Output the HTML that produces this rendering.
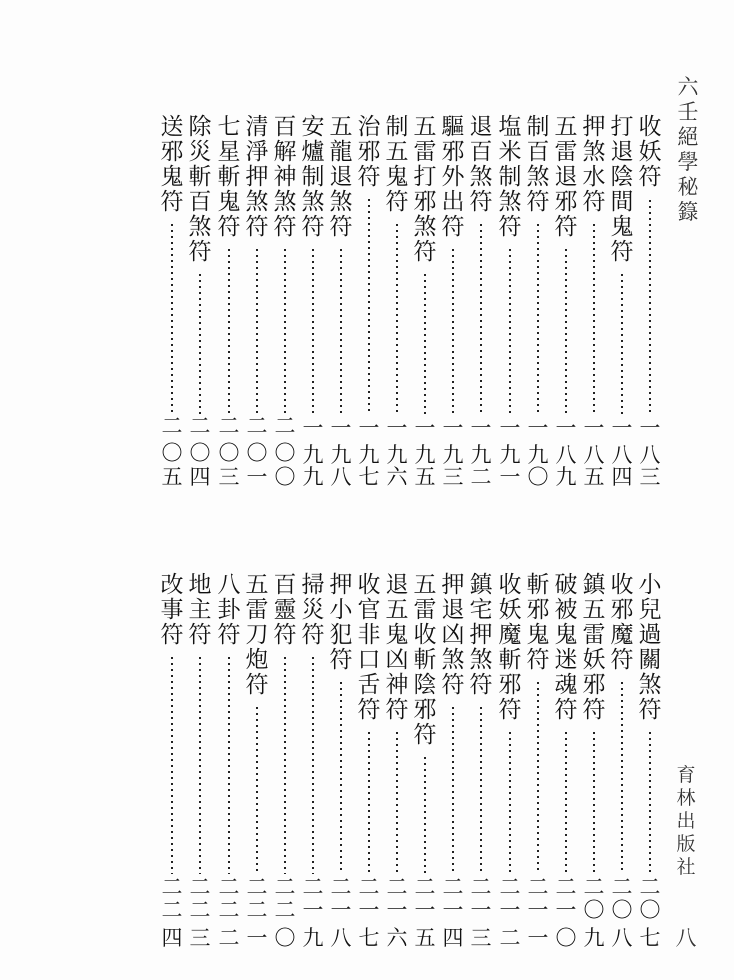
<!DOCTYPE html>
<html><head><meta charset="utf-8"><style>
body{margin:0;background:#fff;}
#p{position:relative;width:734px;height:980px;overflow:hidden;background:#fdfdfd;font-family:"Liberation Serif","Noto Serif CJK SC","Noto Sans CJK TC",serif;color:#111;}
.c{position:absolute;width:26px;text-align:center;font-size:23px;line-height:25px;}
.n{position:absolute;width:24px;text-align:center;font-size:21px;line-height:21px;}
.t{position:absolute;width:26px;text-align:center;font-size:21px;line-height:25px;color:#333;}
svg{position:absolute;left:0;top:0;}
</style></head><body><div id="p">
<svg width="734" height="980"><g stroke="#222" stroke-width="2" stroke-dasharray="2 4">
<line x1="650" y1="200" x2="650" y2="414"/><line x1="622" y1="274" x2="622" y2="414"/><line x1="594" y1="224" x2="594" y2="414"/><line x1="566" y1="249" x2="566" y2="414"/><line x1="538" y1="224" x2="538" y2="414"/><line x1="510" y1="249" x2="510" y2="414"/><line x1="481" y1="224" x2="481" y2="414"/><line x1="453" y1="249" x2="453" y2="414"/><line x1="425" y1="274" x2="425" y2="414"/><line x1="397" y1="224" x2="397" y2="414"/><line x1="369" y1="199" x2="369" y2="414"/><line x1="341" y1="249" x2="341" y2="414"/><line x1="313" y1="249" x2="313" y2="414"/><line x1="285" y1="249" x2="285" y2="414"/><line x1="257" y1="249" x2="257" y2="414"/><line x1="229" y1="249" x2="229" y2="414"/><line x1="200" y1="274" x2="200" y2="414"/><line x1="172" y1="224" x2="172" y2="414"/>
<line x1="650" y1="732" x2="650" y2="874"/><line x1="622" y1="682" x2="622" y2="874"/><line x1="594" y1="732" x2="594" y2="874"/><line x1="566" y1="732" x2="566" y2="874"/><line x1="538" y1="682" x2="538" y2="874"/><line x1="510" y1="732" x2="510" y2="874"/><line x1="481" y1="707" x2="481" y2="874"/><line x1="453" y1="707" x2="453" y2="874"/><line x1="425" y1="757" x2="425" y2="874"/><line x1="397" y1="732" x2="397" y2="874"/><line x1="369" y1="732" x2="369" y2="874"/><line x1="341" y1="682" x2="341" y2="874"/><line x1="313" y1="657" x2="313" y2="874"/><line x1="285" y1="657" x2="285" y2="874"/><line x1="257" y1="707" x2="257" y2="874"/><line x1="229" y1="657" x2="229" y2="874"/><line x1="200" y1="657" x2="200" y2="874"/><line x1="172" y1="657" x2="172" y2="874"/>
</g></svg>
<div class="t" style="left:675px;top:75px">六<br>壬<br>絕<br>學<br>秘<br>籙</div>
<div class="t" style="left:673px;top:764px;font-size:19px;line-height:23px">育<br>林<br>出<br>版<br>社</div>
<div class="t" style="left:673px;top:926px">八</div>

<div class="c" style="left:637px;top:114px">收<br>妖<br>符</div>
<div class="c" style="left:609px;top:114px">打<br>退<br>陰<br>間<br>鬼<br>符</div>
<div class="c" style="left:581px;top:114px">押<br>煞<br>水<br>符</div>
<div class="c" style="left:553px;top:114px">五<br>雷<br>退<br>邪<br>符</div>
<div class="c" style="left:525px;top:114px">制<br>百<br>煞<br>符</div>
<div class="c" style="left:497px;top:114px">塩<br>米<br>制<br>煞<br>符</div>
<div class="c" style="left:468px;top:114px">退<br>百<br>煞<br>符</div>
<div class="c" style="left:440px;top:114px">驅<br>邪<br>外<br>出<br>符</div>
<div class="c" style="left:412px;top:114px">五<br>雷<br>打<br>邪<br>煞<br>符</div>
<div class="c" style="left:384px;top:114px">制<br>五<br>鬼<br>符</div>
<div class="c" style="left:356px;top:114px">治<br>邪<br>符</div>
<div class="c" style="left:328px;top:114px">五<br>龍<br>退<br>煞<br>符</div>
<div class="c" style="left:300px;top:114px">安<br>爐<br>制<br>煞<br>符</div>
<div class="c" style="left:272px;top:114px">百<br>解<br>神<br>煞<br>符</div>
<div class="c" style="left:244px;top:114px">清<br>淨<br>押<br>煞<br>符</div>
<div class="c" style="left:216px;top:114px">七<br>星<br>斬<br>鬼<br>符</div>
<div class="c" style="left:187px;top:114px">除<br>災<br>斬<br>百<br>煞<br>符</div>
<div class="c" style="left:159px;top:114px">送<br>邪<br>鬼<br>符</div>

<div class="n" style="left:638px;top:418px">一</div><div class="n" style="left:638px;top:445px">八</div><div class="n" style="left:638px;top:467px">三</div>
<div class="n" style="left:610px;top:418px">一</div><div class="n" style="left:610px;top:445px">八</div><div class="n" style="left:610px;top:467px">四</div>
<div class="n" style="left:582px;top:418px">一</div><div class="n" style="left:582px;top:445px">八</div><div class="n" style="left:582px;top:467px">五</div>
<div class="n" style="left:554px;top:418px">一</div><div class="n" style="left:554px;top:445px">八</div><div class="n" style="left:554px;top:467px">九</div>
<div class="n" style="left:526px;top:418px">一</div><div class="n" style="left:526px;top:445px">九</div><div class="n" style="left:526px;top:467px">〇</div>
<div class="n" style="left:498px;top:418px">一</div><div class="n" style="left:498px;top:445px">九</div><div class="n" style="left:498px;top:467px">一</div>
<div class="n" style="left:469px;top:418px">一</div><div class="n" style="left:469px;top:445px">九</div><div class="n" style="left:469px;top:467px">二</div>
<div class="n" style="left:441px;top:418px">一</div><div class="n" style="left:441px;top:445px">九</div><div class="n" style="left:441px;top:467px">三</div>
<div class="n" style="left:413px;top:418px">一</div><div class="n" style="left:413px;top:445px">九</div><div class="n" style="left:413px;top:467px">五</div>
<div class="n" style="left:385px;top:418px">一</div><div class="n" style="left:385px;top:445px">九</div><div class="n" style="left:385px;top:467px">六</div>
<div class="n" style="left:357px;top:418px">一</div><div class="n" style="left:357px;top:445px">九</div><div class="n" style="left:357px;top:467px">七</div>
<div class="n" style="left:329px;top:418px">一</div><div class="n" style="left:329px;top:445px">九</div><div class="n" style="left:329px;top:467px">八</div>
<div class="n" style="left:301px;top:418px">一</div><div class="n" style="left:301px;top:445px">九</div><div class="n" style="left:301px;top:467px">九</div>
<div class="n" style="left:273px;top:416px">二</div><div class="n" style="left:273px;top:443px">〇</div><div class="n" style="left:273px;top:467px">〇</div>
<div class="n" style="left:245px;top:416px">二</div><div class="n" style="left:245px;top:443px">〇</div><div class="n" style="left:245px;top:467px">一</div>
<div class="n" style="left:217px;top:416px">二</div><div class="n" style="left:217px;top:443px">〇</div><div class="n" style="left:217px;top:467px">三</div>
<div class="n" style="left:188px;top:416px">二</div><div class="n" style="left:188px;top:443px">〇</div><div class="n" style="left:188px;top:467px">四</div>
<div class="n" style="left:160px;top:416px">二</div><div class="n" style="left:160px;top:443px">〇</div><div class="n" style="left:160px;top:467px">五</div>

<div class="c" style="left:637px;top:572px">小<br>兒<br>過<br>關<br>煞<br>符</div>
<div class="c" style="left:609px;top:572px">收<br>邪<br>魔<br>符</div>
<div class="c" style="left:581px;top:572px">鎮<br>五<br>雷<br>妖<br>邪<br>符</div>
<div class="c" style="left:553px;top:572px">破<br>被<br>鬼<br>迷<br>魂<br>符</div>
<div class="c" style="left:525px;top:572px">斬<br>邪<br>鬼<br>符</div>
<div class="c" style="left:497px;top:572px">收<br>妖<br>魔<br>斬<br>邪<br>符</div>
<div class="c" style="left:468px;top:572px">鎮<br>宅<br>押<br>煞<br>符</div>
<div class="c" style="left:440px;top:572px">押<br>退<br>凶<br>煞<br>符</div>
<div class="c" style="left:412px;top:572px">五<br>雷<br>收<br>斬<br>陰<br>邪<br>符</div>
<div class="c" style="left:384px;top:572px">退<br>五<br>鬼<br>凶<br>神<br>符</div>
<div class="c" style="left:356px;top:572px">收<br>官<br>非<br>口<br>舌<br>符</div>
<div class="c" style="left:328px;top:572px">押<br>小<br>犯<br>符</div>
<div class="c" style="left:300px;top:572px">掃<br>災<br>符</div>
<div class="c" style="left:272px;top:572px">百<br>靈<br>符</div>
<div class="c" style="left:244px;top:572px">五<br>雷<br>刀<br>炮<br>符</div>
<div class="c" style="left:216px;top:572px">八<br>卦<br>符</div>
<div class="c" style="left:187px;top:572px">地<br>主<br>符</div>
<div class="c" style="left:159px;top:572px">改<br>事<br>符</div>

<div class="n" style="left:638px;top:877px">二</div><div class="n" style="left:638px;top:900px">〇</div><div class="n" style="left:638px;top:928px">七</div>
<div class="n" style="left:610px;top:877px">二</div><div class="n" style="left:610px;top:900px">〇</div><div class="n" style="left:610px;top:928px">八</div>
<div class="n" style="left:582px;top:877px">二</div><div class="n" style="left:582px;top:900px">〇</div><div class="n" style="left:582px;top:928px">九</div>
<div class="n" style="left:554px;top:877px">二</div><div class="n" style="left:554px;top:900px">一</div><div class="n" style="left:554px;top:928px">〇</div>
<div class="n" style="left:526px;top:877px">二</div><div class="n" style="left:526px;top:900px">一</div><div class="n" style="left:526px;top:928px">一</div>
<div class="n" style="left:498px;top:877px">二</div><div class="n" style="left:498px;top:900px">一</div><div class="n" style="left:498px;top:928px">二</div>
<div class="n" style="left:469px;top:877px">二</div><div class="n" style="left:469px;top:900px">一</div><div class="n" style="left:469px;top:928px">三</div>
<div class="n" style="left:441px;top:877px">二</div><div class="n" style="left:441px;top:900px">一</div><div class="n" style="left:441px;top:928px">四</div>
<div class="n" style="left:413px;top:877px">二</div><div class="n" style="left:413px;top:900px">一</div><div class="n" style="left:413px;top:928px">五</div>
<div class="n" style="left:385px;top:877px">二</div><div class="n" style="left:385px;top:900px">一</div><div class="n" style="left:385px;top:928px">六</div>
<div class="n" style="left:357px;top:877px">二</div><div class="n" style="left:357px;top:900px">一</div><div class="n" style="left:357px;top:928px">七</div>
<div class="n" style="left:329px;top:877px">二</div><div class="n" style="left:329px;top:900px">一</div><div class="n" style="left:329px;top:928px">八</div>
<div class="n" style="left:301px;top:877px">二</div><div class="n" style="left:301px;top:900px">一</div><div class="n" style="left:301px;top:928px">九</div>
<div class="n" style="left:273px;top:877px">二</div><div class="n" style="left:273px;top:900px">二</div><div class="n" style="left:273px;top:928px">〇</div>
<div class="n" style="left:245px;top:877px">二</div><div class="n" style="left:245px;top:900px">二</div><div class="n" style="left:245px;top:928px">一</div>
<div class="n" style="left:217px;top:877px">二</div><div class="n" style="left:217px;top:900px">二</div><div class="n" style="left:217px;top:928px">二</div>
<div class="n" style="left:188px;top:877px">二</div><div class="n" style="left:188px;top:900px">二</div><div class="n" style="left:188px;top:928px">三</div>
<div class="n" style="left:160px;top:877px">二</div><div class="n" style="left:160px;top:900px">二</div><div class="n" style="left:160px;top:928px">四</div>
</div></body></html>
